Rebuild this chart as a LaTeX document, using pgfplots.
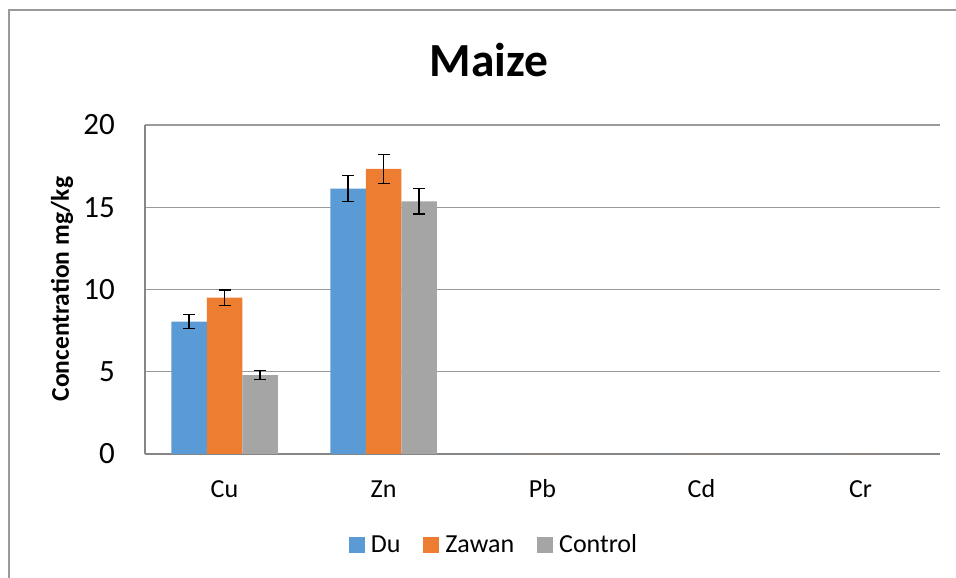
\documentclass[border=0pt]{standalone}
\usepackage{pgfplots}
\pgfplotsset{compat=1.18}
\usepackage{fontspec}
\setmainfont{Carlito}
\definecolor{cDu}{HTML}{5B9BD5}
\definecolor{cZa}{HTML}{ED7D31}
\definecolor{cCo}{HTML}{A5A5A5}
\definecolor{gridc}{HTML}{9A9A9A}
\definecolor{axc}{HTML}{868686}
\pgfplotsset{errb/.style={error bars/.cd, y dir=both, y explicit,
  error bar style={black, line width=1.3pt},
  error mark options={rotate=90, mark size=6pt, black, line width=1.3pt}}}
\begin{document}
\begin{tikzpicture}[x=1pt,y=1pt]
\path[use as bounding box] (0pt,0pt) rectangle (956pt,578pt);
\draw[color=gridc, line width=1.5pt] (9pt,0pt) -- (9pt,568pt) -- (956pt,568pt);
\node[font=\fontsize{47.5}{52}\selectfont\bfseries] at (489pt,518pt) {Maize};
\node[rotate=90, font=\fontsize{25.5}{28}\selectfont\bfseries] at (62pt,289pt) {Concentration mg/kg};
\begin{axis}[
  at={(145pt,124pt)}, anchor=south west,
  scale only axis, width=795pt, height=329pt,
  ymin=0, ymax=20, ytick={0,5,10,15,20},
  xmin=-0.5, xmax=4.5,
  xtick={0,1,2,3,4},
  xticklabels={Cu,Zn,Pb,Cd,Cr},
  major tick length=0pt,
  axis x line*=bottom, axis y line*=left,
  axis line style={color=axc, line width=1.3pt},
  ymajorgrids, grid style={color=gridc, line width=1.2pt},
  /pgf/number format/assume math mode=true,
  y tick label style={font=\fontsize{31}{34}\selectfont, anchor=east, inner sep=0pt, xshift=-30pt},
  x tick label style={font=\fontsize{26}{30}\selectfont, anchor=base, inner sep=0pt, yshift=-44pt},
  ybar=0pt, bar width=35.5pt,
  legend columns=3,
  legend style={at={(0.4377,-0.2751)}, anchor=center, draw=none,
    font=\fontsize{26}{29}\selectfont,
    nodes={inner sep=0pt},
    /tikz/every odd column/.append style={column sep=6pt},
    /tikz/every even column/.append style={column sep=23pt}},
  legend image code/.code={\fill[#1] (0pt,-8pt) rectangle (16pt,8pt);},
]
\addplot[fill=cDu, draw=none, errb] coordinates {(0,8.04) +- (0,0.43) (1,16.13) +- (0,0.8) (2,0) (3,0) (4,0)};
\addplot[fill=cZa, draw=none, errb] coordinates {(0,9.5) +- (0,0.47) (1,17.33) +- (0,0.87) (2,0) (3,0) (4,0)};
\addplot[fill=cCo, draw=none, errb] coordinates {(0,4.8) +- (0,0.27) (1,15.36) +- (0,0.77) (2,0) (3,0) (4,0)};
\legend{Du,Zawan,Control}
\end{axis}
\end{tikzpicture}
\end{document}
